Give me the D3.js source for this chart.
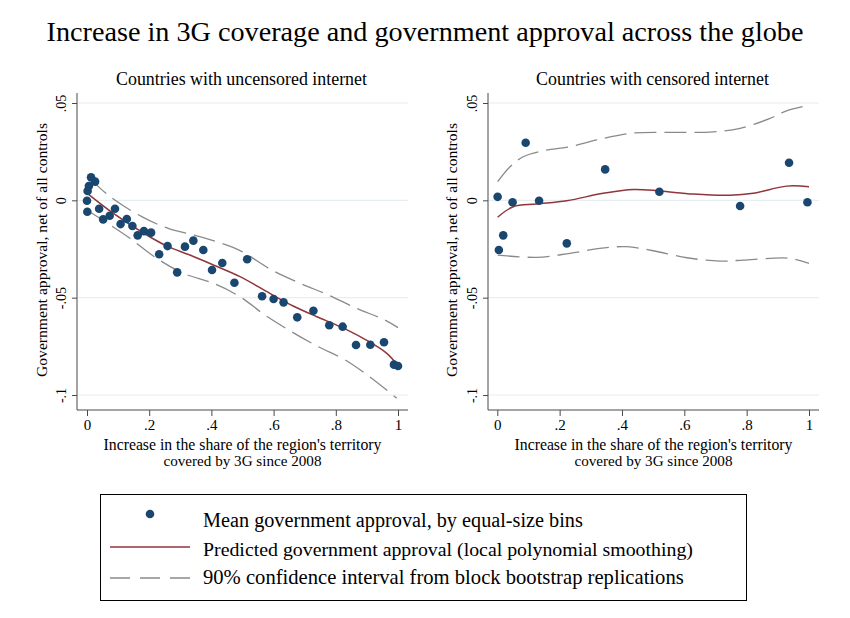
<!DOCTYPE html>
<html><head><meta charset="utf-8">
<script src="https://cdn.jsdelivr.net/npm/d3@7"></script>
<style>
html,body{margin:0;padding:0;background:#fff;}
svg{display:block;}
svg text{font-family:"Liberation Serif","Times New Roman",serif;}
</style></head>
<body><svg id="c" width="850" height="618" font-family="Liberation Serif"></svg>
<script>
// ---------- DATA ----------
const chartTitle = "Increase in 3G coverage and government approval across the globe";
const panelTitles = ["Countries with uncensored internet", "Countries with censored internet"];
const yTickValues = [0.05, 0, -0.05, -0.1];
const yTickLabels = [".05", "0", "-.05", "-.1"];
const xTickValues = [0, 0.2, 0.4, 0.6, 0.8, 1];
const xTickLabels = ["0", ".2", ".4", ".6", ".8", "1"];
const yAxisTitle = "Government approval, net of all controls";
const xAxisTitle = ["Increase in the share of the region's territory", "covered by 3G since 2008"];
const legendLabels = [
  "Mean government approval, by equal-size bins",
  "Predicted government approval (local polynomial smoothing)",
  "90% confidence interval from block bootstrap replications"
];

// Uncensored: binned means
const uncX = [0.000,0.001,0.002,0.006,0.013,0.026,0.039,0.052,0.073,0.090,0.108,0.128,0.146,0.163,0.183,0.206,0.232,0.259,0.290,0.315,0.342,0.374,0.402,0.435,0.474,0.515,0.563,0.600,0.632,0.676,0.728,0.779,0.822,0.865,0.911,0.955,0.987,1.000];
const uncY = [-0.0002,-0.0059,0.0048,0.0074,0.0118,0.0096,-0.0043,-0.0098,-0.0079,-0.0043,-0.0122,-0.0096,-0.0132,-0.0180,-0.0158,-0.0166,-0.0277,-0.0235,-0.0370,-0.0238,-0.0207,-0.0255,-0.0358,-0.0322,-0.0423,-0.0303,-0.0493,-0.0507,-0.0524,-0.0601,-0.0567,-0.0642,-0.0649,-0.0743,-0.0742,-0.0729,-0.0844,-0.0851];
// Uncensored: fit and CI
const uncFitX = [0.001,0.085,0.192,0.261,0.331,0.406,0.492,0.588,0.663,0.739,0.814,0.888,0.964,1.000];
const uncFitY = [0.0036,-0.0067,-0.0178,-0.0238,-0.0281,-0.0332,-0.0392,-0.0478,-0.0543,-0.0598,-0.0649,-0.0709,-0.0786,-0.0850];
const uncHiX = [0.010,0.068,0.176,0.261,0.342,0.417,0.492,0.594,0.685,0.776,0.867,0.958,1.000];
const uncHiY = [0.0113,0.0027,-0.0084,-0.0144,-0.0178,-0.0213,-0.0258,-0.0358,-0.0426,-0.0486,-0.0555,-0.0615,-0.0654];
const uncLoX = [0.000,0.058,0.138,0.224,0.310,0.406,0.492,0.572,0.658,0.744,0.830,0.915,0.996];
const uncLoY = [-0.0050,-0.0110,-0.0195,-0.0298,-0.0375,-0.0426,-0.0495,-0.0589,-0.0675,-0.0752,-0.0820,-0.0914,-0.1017];

// Censored: binned means
const cenX = [0.001,0.005,0.019,0.049,0.091,0.134,0.223,0.346,0.520,0.779,0.936,0.995];
const cenY = [0.0018,-0.0255,-0.0180,-0.0010,0.0296,-0.0002,-0.0221,0.0159,0.0044,-0.0029,0.0193,-0.0010];
// Censored: fit and CI
const cenFitX = [0.001,0.051,0.126,0.223,0.340,0.436,0.522,0.629,0.747,0.821,0.928,1.000];
const cenFitY = [-0.0087,-0.0033,-0.0019,-0.0002,0.0036,0.0056,0.0048,0.0032,0.0026,0.0036,0.0073,0.0070];
const cenHiX = [0.001,0.041,0.083,0.148,0.233,0.319,0.426,0.554,0.693,0.779,0.875,0.928,1.000];
const cenHiY = [0.0096,0.0173,0.0224,0.0255,0.0275,0.0310,0.0344,0.0349,0.0352,0.0370,0.0421,0.0460,0.0489];
const cenLoX = [0.001,0.126,0.233,0.329,0.415,0.500,0.608,0.714,0.789,0.875,0.939,1.000];
const cenLoY = [-0.0281,-0.0293,-0.0272,-0.0247,-0.0238,-0.0259,-0.0295,-0.0312,-0.0307,-0.0298,-0.0298,-0.0324];

// ---------- STYLE ----------
const FONT = "Liberation Serif";
const NAVY = "#1a476f", MAROON = "#90353b", GRAY = "#8a8a8a", GRID = "#e6eef1", AXIS = "#4a4a4a";
const DASH = "22,8";

const svg = d3.select("#c");
svg.append("rect").attr("width",850).attr("height",618).attr("fill","#fff");

function fit(sel, target){
  sel.attr("font-family", FONT);
  const n = sel.node();
  const w = n.getComputedTextLength();
  const fs = parseFloat(sel.attr("font-size"));
  sel.attr("font-size", (fs*target/w).toFixed(2));
  return sel;
}

// Title
fit(svg.append("text").attr("x",425).attr("y",41).attr("text-anchor","middle")
  .attr("font-size",26).attr("fill","#000").text(chartTitle), 757);

const zip = (a,b)=>a.map((v,i)=>[v,b[i]]);
const panels = [
  {title: panelTitles[0], titleW: 251, x0: 87, x1: 398, left: 77, right: 408,
   pts: zip(uncX,uncY), fit: zip(uncFitX,uncFitY), hi: zip(uncHiX,uncHiY), lo: zip(uncLoX,uncLoY), ylabX: 47},
  {title: panelTitles[1], titleW: 233, x0: 497.3, x1: 809, left: 488, right: 819,
   pts: zip(cenX,cenY), fit: zip(cenFitX,cenFitY), hi: zip(cenHiX,cenHiY), lo: zip(cenLoX,cenLoY), ylabX: 457}
];

const y = d3.scaleLinear().domain([-0.1, 0.05]).range([395, 103]);
const plotTop = 93, plotBottom = 410;

panels.forEach(p => {
  const x = d3.scaleLinear().domain([0,1]).range([p.x0, p.x1]);
  const g = svg.append("g");
  const cx = (p.left + p.right)/2;

  // panel title
  fit(g.append("text").attr("x", cx - 1).attr("y", 85).attr("text-anchor","middle")
    .attr("font-size",16).text(p.title), p.titleW);

  // gridlines
  g.selectAll(".grid").data(yTickValues).join("line")
    .attr("x1", p.left).attr("x2", p.right)
    .attr("y1", d=>y(d)).attr("y2", d=>y(d))
    .attr("stroke", GRID).attr("stroke-width",1.2);

  // y axis
  const yAx = g.append("g").attr("transform",`translate(${p.left},0)`)
    .call(d3.axisLeft(y).tickValues(yTickValues).tickFormat((d,i)=>yTickLabels[i]).tickSize(5).tickSizeOuter(0));
  yAx.attr("font-family", FONT);
  yAx.select(".domain").attr("d", `M0,${plotTop}V${plotBottom}`).attr("stroke",AXIS);
  yAx.selectAll(".tick line").attr("stroke",AXIS);
  yAx.selectAll(".tick text").attr("font-family",FONT).attr("font-size",14).attr("fill","#000")
    .attr("transform","rotate(-90)").attr("x",0).attr("y",-11).attr("dy","0").attr("text-anchor","middle");

  // x axis
  const xAx = g.append("g").attr("transform",`translate(0,${plotBottom})`)
    .call(d3.axisBottom(x).tickValues(xTickValues).tickFormat((d,i)=>xTickLabels[i]).tickSize(6).tickSizeOuter(0));
  xAx.attr("font-family", FONT);
  xAx.select(".domain").attr("d", `M${p.left},0H${p.right}`).attr("stroke",AXIS);
  xAx.selectAll(".tick line").attr("stroke",AXIS);
  xAx.selectAll(".tick text").attr("font-family",FONT).attr("font-size",15).attr("fill","#000")
    .attr("y",9).attr("dy","0.71em");

  // axis titles
  fit(g.append("text").attr("x", cx).attr("y", 450).attr("text-anchor","middle")
    .attr("font-size",14).text(xAxisTitle[0]), 278);
  fit(g.append("text").attr("x", cx).attr("y", 466).attr("text-anchor","middle")
    .attr("font-size",14).text(xAxisTitle[1]), 158);
  fit(g.append("text").attr("transform",`translate(${p.ylabX},250) rotate(-90)`).attr("text-anchor","middle")
    .attr("font-size",14).text(yAxisTitle), 254);

  const line = d3.line().x(d=>x(d[0])).y(d=>y(d[1])).curve(d3.curveCatmullRom.alpha(0.5));
  g.append("path").attr("d", line(p.hi)).attr("fill","none").attr("stroke",GRAY).attr("stroke-width",1.3).attr("stroke-dasharray",DASH);
  g.append("path").attr("d", line(p.lo)).attr("fill","none").attr("stroke",GRAY).attr("stroke-width",1.3).attr("stroke-dasharray",DASH);
  g.append("path").attr("d", line(p.fit)).attr("fill","none").attr("stroke",MAROON).attr("stroke-width",1.5);

  g.selectAll(".pt").data(p.pts).join("circle")
    .attr("cx", d=>x(d[0])).attr("cy", d=>y(d[1])).attr("r",4.3).attr("fill",NAVY);
});

// Legend
const lg = svg.append("g");
lg.append("rect").attr("x",100.5).attr("y",494.5).attr("width",646).attr("height",106)
  .attr("fill","#fff").attr("stroke","#000").attr("stroke-width",1);
lg.append("circle").attr("cx",150).attr("cy",514).attr("r",4.3).attr("fill",NAVY);
lg.append("line").attr("x1",110).attr("x2",190).attr("y1",547).attr("y2",547).attr("stroke",MAROON).attr("stroke-width",1.5);
lg.append("line").attr("x1",110).attr("x2",192).attr("y1",578).attr("y2",578).attr("stroke",GRAY).attr("stroke-width",1.3).attr("stroke-dasharray","20,10");
const legW = [380, 490, 481];
const legY = [527, 556, 584];
legendLabels.forEach((t,i)=>{
  fit(lg.append("text").attr("x",203).attr("y",legY[i]).attr("font-size",17).text(t), legW[i]);
});
</script>
</body></html>
